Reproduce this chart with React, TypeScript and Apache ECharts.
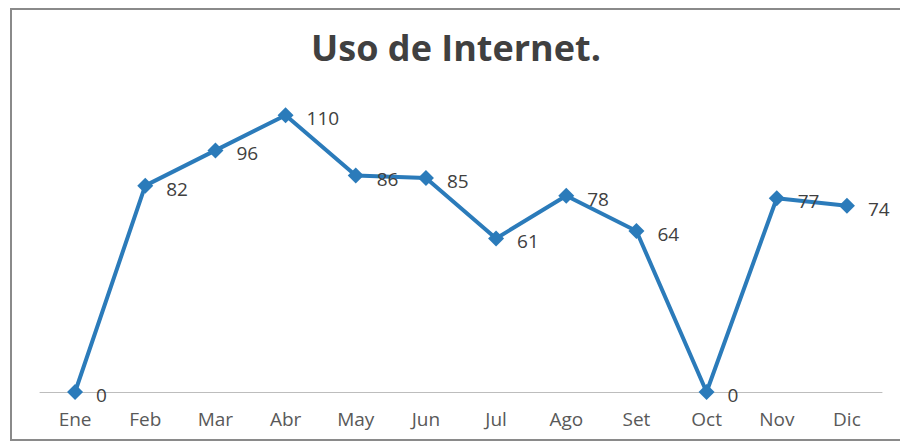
import React, { useEffect, useRef } from "react";
import * as echarts from "echarts";

const months = ["Ene", "Feb", "Mar", "Abr", "May", "Jun", "Jul", "Ago", "Set", "Oct", "Nov", "Dic"];
const usage = [0, 82, 96, 110, 86, 85, 61, 78, 64, 0, 77, 74];
const titleText = "Uso de Internet.";

export default function App() {
  const ref = useRef<HTMLDivElement>(null);
  useEffect(() => {
    if (!ref.current) return;
    const chart = echarts.init(ref.current, undefined, { renderer: "svg" });
    chart.setOption({
      animation: false,
      backgroundColor: "#ffffff",
      title: {
        text: titleText,
        left: 451,
        top: 24,
        textAlign: "center",
        textStyle: {
          fontFamily: "Open Sans",
          fontWeight: "bold",
          fontSize: 36,
          color: "#404040",
        },
      },
      graphic: [
        {
          type: "rect",
          shape: { x: 11, y: 9, width: 900, height: 431 },
          style: { fill: "none", stroke: "#8a8a8a", lineWidth: 2 },
          silent: true,
        },
      ],
      grid: { left: 40, right: 18, top: 90, bottom: 53 },
      xAxis: {
        type: "category",
        data: months,
        boundaryGap: true,
        axisLine: { show: true, lineStyle: { color: "#bdbdbd", width: 1 } },
        axisTick: { show: false },
        axisLabel: {
          color: "#595959",
          fontFamily: "Open Sans",
          fontSize: 19,
          margin: 17,
        },
      },
      yAxis: {
        type: "value",
        min: 0,
        max: 120,
        interval: 20,
        show: false,
        splitLine: { show: false },
      },
      series: [
        {
          type: "line",
          data: usage,
          symbol: "diamond",
          symbolSize: 16,
          itemStyle: { color: "#2b7bba" },
          lineStyle: { color: "#2b7bba", width: 4 },
          label: {
            show: true,
            position: "right",
            distance: 13,
            offset: [0, 3],
            color: "#404040",
            fontFamily: "Open Sans",
            fontSize: 19,
          },
        },
      ],
    });
    return () => chart.dispose();
  }, []);
  return (
    <div
      ref={ref}
      style={{ position: "fixed", left: 0, top: 0, width: 900, height: 445 }}
    />
  );
}
